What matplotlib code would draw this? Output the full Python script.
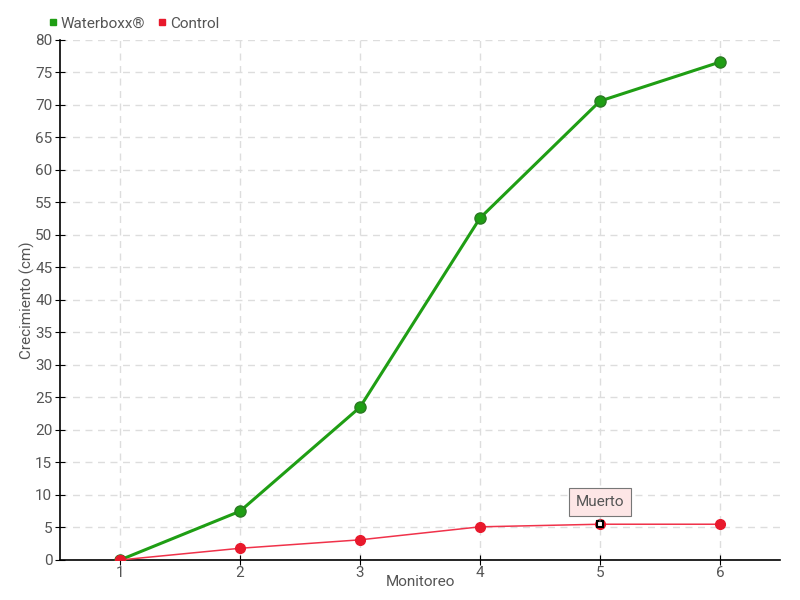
import matplotlib
matplotlib.use("Agg")
import matplotlib.pyplot as plt
from matplotlib.lines import Line2D

monitoreo = [1, 2, 3, 4, 5, 6]
waterboxx = [0, 7.5, 23.5, 52.6, 70.6, 76.6]
control = [0, 1.8, 3.1, 5.1, 5.5, 5.5]
yticks = list(range(0, 81, 5))

plt.rcParams['font.family'] = ['Roboto', 'DejaVu Sans']
txt = '#555555'

fig = plt.figure(figsize=(8, 6), dpi=100)
ax = fig.add_axes([0.075, 0.0667, 0.9, 0.8667])

ax.plot(monitoreo, waterboxx, color='#1f9e14', lw=2.2, marker='o', ms=8,
        markerfacecolor='#1f9e14', markeredgecolor='#2a7a22', zorder=3)
ax.plot(monitoreo, control, color='#f0324a', lw=1.1, marker='o', ms=7,
        markerfacecolor='#e8192c', markeredgecolor='#e8192c', zorder=4)
ax.plot(monitoreo[0], control[0], 'o', ms=7, color='#e8192c', zorder=5)
ax.plot(monitoreo[4], control[4], 's', ms=5, markerfacecolor='white',
        markeredgecolor='black', markeredgewidth=1.5, zorder=6)

ax.annotate('Muerto', xy=(monitoreo[4], control[4]), xytext=(0, 16),
            textcoords='offset points', ha='center', va='center',
            fontsize=11, color=txt,
            bbox=dict(boxstyle='square,pad=0.45', fc='#fde6e6', ec='#777777', lw=0.8),
            arrowprops=dict(arrowstyle='-', color='#777777', lw=0.8), zorder=7)

ax.set_xlim(0.5, 6.5)
ax.set_ylim(0, 80)
ax.set_xticks(monitoreo)
ax.set_yticks(yticks)
ax.grid(True, color='#dddddd', linestyle=(0, (5, 4)), lw=1)
ax.set_axisbelow(True)
for s in ['top', 'right']:
    ax.spines[s].set_visible(False)
for s in ['left', 'bottom']:
    ax.spines[s].set_color('black')
    ax.spines[s].set_linewidth(1.2)
ax.tick_params(axis='both', direction='inout', length=7, colors='black',
               labelcolor=txt, labelsize=11)
ax.tick_params(axis='y', pad=2)
ax.tick_params(axis='x', pad=1)
ax.set_xlabel('Monitoreo', color=txt, fontsize=11, va='center')
ax.set_ylabel('Crecimiento (cm)', color=txt, fontsize=11, va='center')
ax.xaxis.set_label_coords(0.5, -0.042)
ax.yaxis.set_label_coords(-0.046, 0.5)

handles = [Line2D([], [], marker='s', color='#1f9e14', ls='none', ms=5),
           Line2D([], [], marker='s', color='#e8192c', ls='none', ms=5)]
fig.legend(handles, ['Waterboxx®', 'Control'], loc='upper left',
           bbox_to_anchor=(0.04, 0.995), ncol=2, frameon=False, fontsize=11,
           handletextpad=0.0, columnspacing=0.6, labelcolor=txt, handlelength=1.0)

fig.savefig('out.png', dpi=100)
